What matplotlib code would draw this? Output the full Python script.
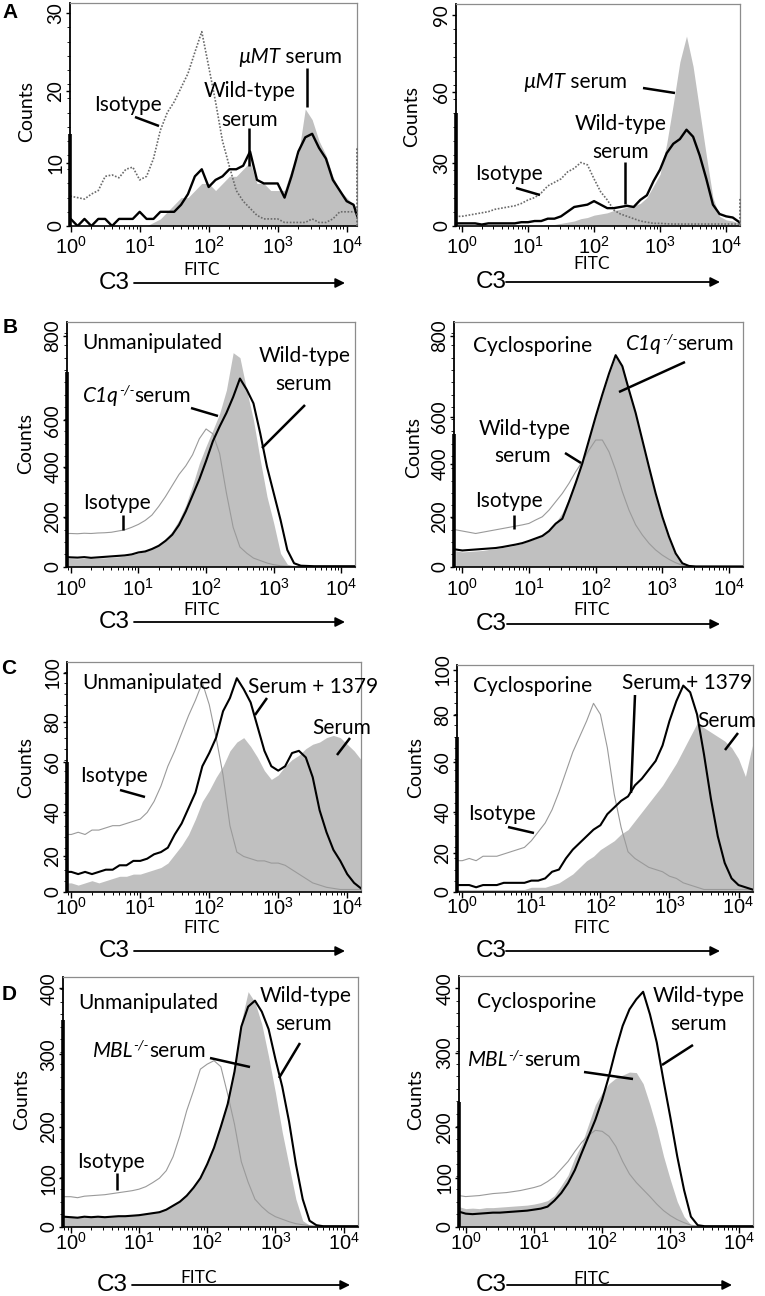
import numpy as np
import matplotlib
matplotlib.use("Agg")
import matplotlib.pyplot as plt
from matplotlib.lines import Line2D
from matplotlib.patches import FancyArrowPatch
from matplotlib.ticker import MultipleLocator, LogLocator, NullFormatter

plt.rcParams['font.family'] = ['Lato', 'DejaVu Sans']
plt.rcParams['mathtext.fontset'] = 'custom'
plt.rcParams['mathtext.rm'] = 'Liberation Sans'
plt.rcParams['mathtext.it'] = 'Liberation Sans:italic'
plt.rcParams['mathtext.bf'] = 'Liberation Sans:bold'

W, H = 765, 1296

# channel centres (log10 FITC), -0.1 ... 4.2
LOG_CHANNELS = np.round(np.arange(-0.1, 4.25, 0.1), 2)
FITC = 10 ** LOG_CHANNELS

X_TICKS = [1, 10, 100, 1000, 10000]
X_TICK_LABELS = [r'$10^{0}$', r'$10^{1}$', r'$10^{2}$', r'$10^{3}$', r'$10^{4}$']

# ---------------- Panel A left ----------------
A_L_WILDTYPE = [1, 1, 0, 1, 0, 1, 1, 0, 1, 1, 1,
                2, 1, 1, 2, 2, 2, 3, 4.5, 7, 8,
                5.5, 6.5, 7, 8, 8, 8.5, 10.5, 6.5, 6, 6,
                6, 4, 7, 10.5, 12.5, 13, 11, 9.5, 6.5, 5,
                3.5, 3, 0]
A_L_MUMT = [0, 0, 0, 0, 0, 0, 0, 0, 0, 0, 0,
            0, 0, 0.5, 1, 2, 3, 4, 4, 5, 6,
            6, 5, 6, 7, 7, 8, 9, 6, 6, 5,
            5, 5, 8, 10, 16.5, 15, 12, 10, 7, 5,
            4, 3, 2]
A_L_ISOTYPE = [4, 4.2, 4, 3.8, 4.5, 5, 7, 7.2, 6.8, 8, 8.3,
               6.5, 7, 9.5, 13.5, 16, 17.5, 19.5, 21.5, 24.5, 27.4,
               22.5, 17.5, 12, 8.4, 5, 3.5, 2.5, 1.5, 1, 1,
               1, 0.5, 0.5, 0.5, 0.5, 1, 0.5, 0.5, 1, 2,
               2, 2, 2]

# ---------------- Panel A right ----------------
A_R_WILDTYPE = [1, 1, 1, 1, 0.5, 1, 1, 1, 1, 1, 1.5,
                1.5, 2, 2, 3, 3, 4, 6, 8, 8.5, 9,
                10.5, 9, 7.5, 7.5, 8, 8.5, 8, 11, 13, 19,
                24, 31, 35, 37, 41, 38, 30, 20, 9, 5,
                4, 3.5, 1.5]
A_R_MUMT = [0, 0, 0, 0, 0, 0, 0, 0, 0, 0, 0,
            0, 0, 0, 0.5, 0.5, 1, 1.5, 2, 3, 3.5,
            4.5, 5, 5.5, 6.5, 7, 8, 8.5, 9.5, 12, 17,
            22, 35, 52, 70, 81, 68, 49, 30, 12, 4,
            2.5, 2, 1]
A_R_ISOTYPE = [4, 4, 4.5, 5, 5.5, 6, 7, 7.5, 8, 8.5, 9.5,
               11, 12, 14, 17, 18.5, 20, 23, 24.5, 27, 26,
               20, 14.5, 11, 6.7, 5, 4, 3, 2, 1.5, 1,
               1, 0.8, 0.7, 0.7, 0.7, 0.7, 0.7, 0.7, 0.7, 0.7,
               0.7, 0.7, 0.7]

# ---------------- Panel B left (Unmanipulated) ----------------
B_L_WILDTYPE = [40, 38, 37, 39, 36, 38, 40, 42, 44, 46, 50,
                58, 62, 72, 85, 105, 130, 170, 225, 290, 355,
                430, 510, 570, 625, 690, 765, 720, 664, 542, 406,
                298, 190, 68, 14, 4, 3, 2, 2, 2, 2,
                2, 2, 2]
B_L_C1Q = [35, 33, 32, 34, 33, 35, 36, 38, 40, 43, 48,
           55, 62, 75, 90, 112, 145, 190, 250, 330, 420,
           490, 555, 623, 718, 870, 850, 718, 596, 434, 285,
           176, 54, 10, 2, 1, 1, 1, 1, 1, 1,
           1, 1, 1]
B_L_ISOTYPE = [135, 135, 134, 136, 135, 137, 138, 140, 145, 150, 160,
               172, 188, 210, 245, 285, 330, 375, 410, 455, 520,
               560, 540, 460, 300, 160, 80, 55, 35, 25, 15,
               8, 4, 2, 1, 1, 1, 1, 1, 1, 1,
               1, 1, 1]

# ---------------- Panel B right (Cyclosporine) ----------------
B_R_WILDTYPE = [70, 66, 68, 70, 72, 74, 76, 80, 85, 90, 96,
                105, 115, 125, 145, 175, 195, 265, 340, 420, 515,
                610, 700, 785, 860, 815, 718, 625, 515, 405, 298,
                203, 122, 54, 14, 3, 1, 1, 1, 1, 1,
                1, 1, 1]
B_R_C1Q = [65, 60, 62, 64, 66, 70, 73, 78, 82, 88, 95,
           105, 115, 128, 150, 180, 220, 280, 350, 430, 520,
           610, 700, 780, 855, 820, 720, 615, 500, 390, 285,
           190, 110, 45, 12, 3, 1, 1, 1, 1, 1,
           1, 1, 1]
B_R_ISOTYPE = [150, 145, 140, 135, 140, 145, 150, 155, 160, 165, 170,
               176, 190, 203, 230, 264, 298, 339, 386, 427, 474,
               515, 515, 467, 393, 305, 230, 170, 129, 95, 68,
               47, 30, 16, 6, 2, 1, 1, 1, 1, 1,
               1, 1, 1]

# ---------------- Panel C left (Unmanipulated) ----------------
C_L_SERUM_1379 = [9, 9, 8, 9, 8, 9, 10, 10, 12, 12, 14,
                  14, 15, 17, 18, 20, 26, 31, 38, 45, 57,
                  63, 70, 82, 88, 97, 92, 86, 75, 64, 57,
                  55, 57, 63, 64, 61, 52, 37, 27, 19, 14,
                  8, 4, 1.5]
C_L_SERUM = [4, 4, 3, 4, 5, 4, 5, 6, 7, 7, 8,
             8, 9, 10, 11, 13, 17, 21, 26, 33, 41,
             46, 52, 57, 64, 68, 70, 66, 61, 55, 51,
             53, 57, 60, 62, 65, 67, 68, 70, 71, 70,
             67, 64, 60]
C_L_ISOTYPE = [26, 26, 27, 26, 28, 28, 29, 30, 30, 31, 32,
               33, 36, 41, 48, 57, 64, 72, 80, 87, 95,
               85, 70, 53, 30, 18, 16, 15, 14, 14, 13,
               13, 12, 10, 8, 6, 4, 3, 2, 1.5, 1,
               1, 1, 1]

# ---------------- Panel C right (Cyclosporine) ----------------
C_R_SERUM_1379 = [3, 3, 3, 2, 3, 3, 3, 4, 4, 4, 4,
                  5, 5, 6, 9, 10, 15, 19, 22, 25, 28,
                  30, 35, 38, 41, 43, 48, 51, 55, 59, 66,
                  77, 86, 93, 90, 80, 62, 42, 25, 13, 6,
                  3, 2, 1]
C_R_SERUM = [1, 1, 1, 1, 1, 1, 1, 1, 1, 1, 1,
             2, 2, 2, 3, 4, 6, 8, 11, 14, 16,
             19, 21, 23, 26, 28, 32, 36, 40, 44, 48,
             53, 58, 64, 70, 76, 74, 72, 70, 68, 65,
             60, 52, 66]
C_R_ISOTYPE = [14, 14, 15, 14, 16, 16, 16, 17, 18, 19, 20,
               23, 27, 31, 37, 45, 54, 63, 70, 77, 85,
               80, 65, 44, 29, 18, 15, 13, 11, 10, 9,
               7, 6, 4, 3, 2, 1, 1, 1, 1, 1,
               1, 1, 1]

# ---------------- Panel D left (Unmanipulated) ----------------
D_L_WILDTYPE = [20, 19, 18, 20, 19, 20, 19, 20, 21, 21, 22,
                23, 25, 27, 29, 34, 42, 50, 62, 78, 97,
                125, 158, 200, 245, 310, 400, 440, 452, 430, 395,
                335, 280, 210, 125, 55, 12, 3, 1, 1, 1,
                1, 1, 1]
D_L_MBL = [22, 21, 20, 21, 20, 21, 21, 22, 22, 23, 24,
           25, 27, 29, 31, 36, 44, 53, 65, 82, 100,
           130, 165, 205, 255, 320, 410, 470, 449, 405, 340,
           268, 189, 122, 55, 12, 3, 1, 1, 1, 1,
           1, 1, 1]
D_L_ISOTYPE = [60, 60, 58, 61, 62, 63, 64, 66, 68, 70, 72,
               75, 80, 88, 97, 112, 140, 182, 232, 272, 315,
               325, 332, 320, 265, 205, 130, 89, 55, 40, 28,
               20, 15, 10, 6, 4, 2, 1, 1, 1, 1,
               1, 1, 1]

# ---------------- Panel D right (Cyclosporine) ----------------
D_R_WILDTYPE = [30, 26, 25, 26, 27, 28, 28, 29, 30, 31, 32,
                34, 36, 40, 52, 67, 87, 113, 147, 180, 213,
                253, 300, 353, 400, 433, 453, 468, 423, 367, 290,
                217, 140, 73, 20, 3, 1, 1, 1, 1, 1,
                1, 1, 1]
D_R_MBL = [40, 36, 37, 36, 38, 38, 39, 40, 41, 42, 43,
           45, 48, 52, 62, 82, 103, 138, 164, 204, 243,
           267, 285, 296, 302, 308, 307, 285, 243, 196, 140,
           93, 50, 20, 4, 1, 1, 1, 1, 1, 1,
           1, 1, 1]
D_R_ISOTYPE = [62, 60, 61, 62, 64, 66, 67, 68, 70, 72, 75,
               78, 82, 90, 100, 115, 130, 150, 168, 182, 192,
               190, 180, 160, 130, 105, 88, 74, 60, 45, 32,
               22, 14, 8, 3, 1, 1, 1, 1, 1, 1,
               1, 1, 1]

# first-channel pile-up (black) and last-channel pile-up (isotype)
FIRST_CHANNEL = {'A_L': 13, 'A_R': 48, 'B_L': 790, 'B_R': 540,
                 'C_L': 59, 'C_R': 70, 'D_L': 414, 'D_R': 248}
LAST_CHANNEL_ISOTYPE = {'A_L': 11, 'A_R': 12}

Y_TICK_LABELS = {'A_L': ['0', '10', '20', '30'], 'A_R': ['0', '30', '60', '90'],
                 'B_L': ['0', '200', '400', '600', '800'], 'B_R': ['0', '200', '400', '600', '800'],
                 'C_L': ['0', '20', '40', '60', '80', '100'], 'C_R': ['0', '20', '40', '60', '80', '100'],
                 'D_L': ['0', '100', '200', '300', '400'], 'D_R': ['0', '100', '200', '300', '400']}

SERIES = {
    'A_L': (A_L_WILDTYPE, A_L_MUMT, A_L_ISOTYPE),
    'A_R': (A_R_WILDTYPE, A_R_MUMT, A_R_ISOTYPE),
    'B_L': (B_L_WILDTYPE, B_L_C1Q, B_L_ISOTYPE),
    'B_R': (B_R_WILDTYPE, B_R_C1Q, B_R_ISOTYPE),
    'C_L': (C_L_SERUM_1379, C_L_SERUM, C_L_ISOTYPE),
    'C_R': (C_R_SERUM_1379, C_R_SERUM, C_R_ISOTYPE),
    'D_L': (D_L_WILDTYPE, D_L_MBL, D_L_ISOTYPE),
    'D_R': (D_R_WILDTYPE, D_R_MBL, D_R_ISOTYPE),
}

# layout: (left, top, right, bottom) in pixels, xlim (log10), y top, tick label placement, minor step, x label pad
LAYOUT = {
    'A_L': dict(rect=(70, 3.3, 357, 226), xl=(-0.01, 4.15), ytop=31.4, yt=[0, 8.84, 19.07, 30], ym=2, dotted=True, xpad=2.5),
    'A_R': dict(rect=(456, 4, 740, 225.7), xl=(-0.09, 4.21), ytop=94.7, yt=[0, 26.65, 57.2, 90], ym=6, dotted=True, xpad=2.5),
    'B_L': dict(rect=(67, 321.7, 355, 566.7), xl=(-0.055, 4.2), ytop=996, yt=[0, 203, 405, 595, 939], ym=50, dotted=False, xpad=3),
    'B_R': dict(rect=(454, 321.7, 743, 566.7), xl=(-0.125, 4.21), ytop=996, yt=[0, 203, 419, 608, 939], ym=50, dotted=False, xpad=3),
    'C_L': dict(rect=(67, 661.7, 361, 891.7), xl=(-0.062, 4.2), ytop=104.5, yt=[0, 16, 36, 59, 77, 99.5], ym=5, dotted=False, xpad=-1),
    'C_R': dict(rect=(457, 665, 753, 891.7), xl=(-0.077, 4.21), ytop=102.3, yt=[0, 17.3, 36.1, 58.6, 79.7, 100], ym=5, dotted=False, xpad=-1.5),
    'D_L': dict(rect=(63, 977.3, 358, 1226.7), xl=(-0.113, 4.21), ytop=498.7, yt=[0, 96.7, 200, 344.7, 476.7], ym=25, dotted=False, xpad=-0.8),
    'D_R': dict(rect=(459, 976, 753, 1226.7), xl=(-0.098, 4.21), ytop=499.4, yt=[0, 98, 198, 346, 474.7], ym=25, dotted=False, xpad=-0.8),
}

fig = plt.figure(figsize=(W / 100, H / 100), dpi=100)
fig.patch.set_facecolor('white')


def fx(x):
    return x / W


def fy(y):
    return 1 - y / H


for key, L in LAYOUT.items():
    wt, fill, iso = SERIES[key]
    l, t, r, b = L['rect']
    ax = fig.add_axes([fx(l), fy(b), (r - l) / W, (b - t) / H])
    ax.set_xscale('log')
    xlo, xhi = 10 ** L['xl'][0], 10 ** L['xl'][1]
    ax.set_xlim(xlo, xhi)
    ax.set_ylim(0, L['ytop'])
    ax.fill_between(FITC, 0, fill, color='#c0c0c0', lw=0, zorder=1)
    if L['dotted']:
        ax.plot(FITC, iso, color='#6a6a6a', lw=1.2, ls=(0, (1, 1)), zorder=2)
        ax.plot(FITC, wt, color='black', lw=1.7, zorder=3)
    else:
        ax.plot(FITC, iso, color='#9a9a9a', lw=0.8, zorder=2)
        ax.plot(FITC, wt, color='black', lw=1.5, zorder=3)
    ax.vlines(xlo, 0, FIRST_CHANNEL[key], color='black', lw=2.6, zorder=4, clip_on=False)
    if key in LAST_CHANNEL_ISOTYPE:
        ax.vlines(xhi, 0, LAST_CHANNEL_ISOTYPE[key], colors='#6a6a6a', lw=1.3,
                  linestyles=(0, (1, 1)), zorder=4, clip_on=False)

    for s in ('top', 'right'):
        ax.spines[s].set_color('#8c8c8c')
        ax.spines[s].set_linewidth(0.9)
    ax.spines['left'].set_color('black')
    ax.spines['left'].set_linewidth(1.3)
    ax.spines['bottom'].set_color('black')
    ax.spines['bottom'].set_linewidth(1.2)

    ax.set_xticks(X_TICKS)
    ax.set_xticklabels(X_TICK_LABELS)
    ax.xaxis.set_minor_locator(LogLocator(base=10, subs=np.arange(2, 10), numticks=20))
    ax.xaxis.set_minor_formatter(NullFormatter())
    ax.tick_params(axis='x', which='major', length=4, width=1, direction='out', labelsize=14.5, pad=L['xpad'])
    ax.tick_params(axis='x', which='minor', length=2.5, width=0.7, direction='out')

    ax.set_yticks(L['yt'])
    ax.set_yticklabels(Y_TICK_LABELS[key], rotation=90, va='center', fontsize=13.5)
    ax.yaxis.set_minor_locator(MultipleLocator(L['ym']))
    ax.tick_params(axis='y', which='major', length=3, width=1, direction='out', pad=1)
    ax.tick_params(axis='y', which='minor', length=2, width=0.6, direction='out')

renderer = fig.canvas.get_renderer()

FS = 15


def text(x, y, s, ha='left', **kw):
    kw.setdefault('fontsize', FS)
    return fig.text(fx(x), fy(y), s, ha=ha, va='baseline', **kw)


def rich(x, y, parts):
    cx = x
    for s, kw in parts:
        kw = dict(kw)
        dy = kw.pop('dy', 0)
        kw.setdefault('fontsize', FS)
        t = fig.text(fx(cx), fy(y - dy), s, ha='left', va='baseline', **kw)
        bb = t.get_window_extent(renderer=renderer)
        cx += bb.width


def leader(x1, y1, x2, y2):
    fig.add_artist(Line2D([fx(x1), fx(x2)], [fy(y1), fy(y2)], color='black', lw=1.8,
                          solid_capstyle='butt'))


IT = dict(style='italic')
SUP = dict(style='italic', fontsize=10, dy=7)

# ---- Panel A ----
text(94, 111, 'Isotype')
text(250, 97.3, 'Wild-type', ha='center')
text(250, 126, 'serum', ha='center')
rich(238, 63.3, [('\u00b5MT', IT), (' serum', {})])
leader(135, 117, 159, 126)
leader(249, 128, 249, 166)
leader(307, 68, 307, 107)

rich(523, 88.3, [('\u00b5MT', IT), (' serum', {})])
text(620.5, 130, 'Wild-type', ha='center')
text(621, 158.3, 'serum', ha='center')
text(475, 180, 'Isotype')
leader(643, 88, 675, 93)
leader(625, 162, 625, 204)
leader(516, 188, 540, 195)

# ---- Panel B ----
text(82, 349.3, 'Unmanipulated')
text(304.5, 362.3, 'Wild-type', ha='center')
text(304, 390, 'serum', ha='center')
rich(83, 401.7, [('C1q', IT), ('-/-', SUP), ('serum', {})])
text(83, 509.3, 'Isotype')
leader(191, 408, 218, 416)
leader(305, 405, 262, 448)
leader(123, 515, 123, 530)

text(473, 351.7, 'Cyclosporine')
rich(626, 350, [('C1q', IT), ('-/-', SUP), ('serum', {})])
text(524.5, 435, 'Wild-type', ha='center')
text(523, 462.3, 'serum', ha='center')
text(475, 507.3, 'Isotype')
leader(685, 362, 619, 392)
leader(565, 453, 581, 463)
leader(514, 515, 514, 529)

# ---- Panel C ----
text(82, 689, 'Unmanipulated')
text(248, 693.3, 'Serum + 1379')
text(312, 734, 'Serum')
text(80, 781.7, 'Isotype')
leader(267, 698, 255, 715)
leader(350, 738, 337, 755)
leader(120, 790, 145, 797)

text(473, 691.7, 'Cyclosporine')
text(622, 689, 'Serum + 1379')
text(697, 727.3, 'Serum')
text(468, 820, 'Isotype')
leader(635, 695, 631, 793)
leader(738, 733, 725, 750)
leader(508, 827, 534, 833)

# ---- Panel D ----
text(78, 1009.3, 'Unmanipulated')
text(306, 1001.7, 'Wild-type', ha='center')
text(304, 1030, 'serum', ha='center')
rich(93, 1056.7, [('MBL', IT), ('-/-', SUP), ('serum', {})])
text(77, 1168.3, 'Isotype')
leader(300, 1043, 279, 1078)
leader(210, 1058, 250, 1067)
leader(117, 1173, 117, 1190)

text(477, 1008.3, 'Cyclosporine')
text(699, 1001.7, 'Wild-type', ha='center')
text(699, 1030, 'serum', ha='center')
rich(468, 1066, [('MBL', IT), ('-/-', SUP), ('serum', {})])
leader(693, 1045, 662, 1065)
leader(584, 1072, 633, 1079)

# ---- axis titles, FITC / C3 arrows, panel letters ----
COUNTS_POS = [(27, 112), (412, 116.5), (26, 443), (414, 447), (26, 768), (416, 768), (22, 1100), (416, 1100)]
for (x, y) in COUNTS_POS:
    fig.text(fx(x), fy(y), 'Counts', rotation=90, ha='center', va='center', fontsize=14)

FITC_POS = [(202, 270), (592, 264), (202, 610), (592, 610), (202, 928), (592, 928), (199, 1278), (592, 1279)]
for (x, y) in FITC_POS:
    fig.text(fx(x), fy(y), 'FITC', ha='center', va='center', fontsize=12.5)

C3_ROWS = [(114, 134, 345, 283), (491, 506, 720, 282), (114, 134, 345, 622), (491, 507, 720, 624),
           (114, 134, 345, 951), (491, 506, 720, 951), (112, 132, 350, 1285), (491, 507, 732, 1285)]
for (xc, xa, xb, y) in C3_ROWS:
    fig.text(fx(xc), fy(y), 'C3', ha='center', va='center', fontsize=17.5, family='Liberation Sans')
    fig.add_artist(FancyArrowPatch((fx(xa), fy(y)), (fx(xb), fy(y)), transform=fig.transFigure,
                                   arrowstyle='-|>', mutation_scale=14, lw=1.3, color='black',
                                   shrinkA=0, shrinkB=0))

for (s, x, y) in [('A', 10, 13), ('B', 10, 327), ('C', 9, 669), ('D', 9, 995)]:
    fig.text(fx(x), fy(y), s, ha='center', va='center', fontsize=15, fontweight='bold',
             family='Liberation Sans')

fig.savefig('out.png', dpi=100, facecolor='white')
